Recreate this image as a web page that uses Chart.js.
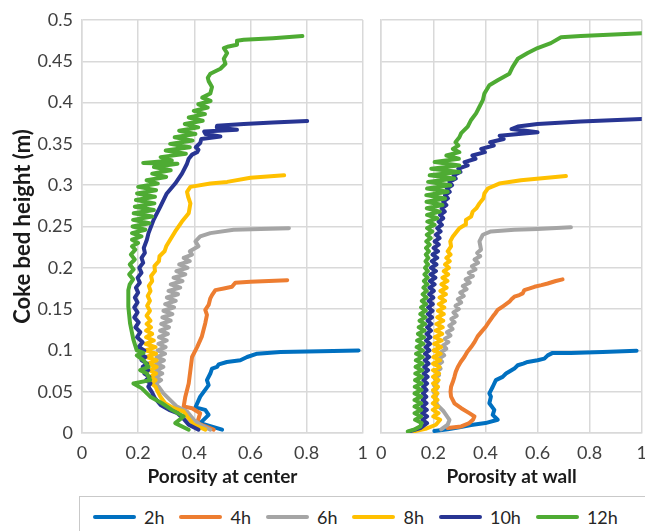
<!DOCTYPE html>
<html>
<head>
<meta charset="utf-8">
<script src="https://cdn.jsdelivr.net/npm/chart.js@4"></script>
<style>
  body { margin: 0; background: #fff; overflow: hidden; }
  #wrap { position: relative; width: 645px; height: 531px; overflow: hidden; }
  canvas { position: absolute; top: 0; }
  #legend {
    position: absolute; left: 79px; top: 496px; width: 620px; height: 60px;
    border: 1.5px solid #c9c9c9; box-sizing: border-box;
    display: flex; align-items: flex-start; padding: 9px 0 0 13px;
    font-family: Lato, sans-serif; font-size: 18px; color: #262626;
  }
  .item { display: flex; align-items: center; margin-right: 15px; height: 22px; }
  .swatch { width: 43px; height: 4px; border-radius: 2px; margin-right: 8px; }
</style>
</head>
<body>
<div id="wrap">
  <canvas id="centerChart" width="377" height="495" style="left:0"></canvas>
  <canvas id="wallChart" width="289" height="495" style="left:367px"></canvas>
  <div id="legend"></div>
</div>
<script>
// series names and colours
const seriesNames = ['2h', '4h', '6h', '8h', '10h', '12h'];
const seriesColors = ['#0070c0', '#ed7d31', '#a5a5a5', '#ffc000', '#283593', '#4eab33'];

// axis ticks
const xTickValues = [0, 0.2, 0.4, 0.6, 0.8, 1];
const xTickLabels = ['0', '0.2', '0.4', '0.6', '0.8', '1'];
const yTickValues = [0, 0.05, 0.1, 0.15, 0.2, 0.25, 0.3, 0.35, 0.4, 0.45, 0.5];
const yTickLabels = ['0', '0.05', '0.1', '0.15', '0.2', '0.25', '0.3', '0.35', '0.4', '0.45', '0.5'];

// porosity at center, [porosity, height (m)]
const center2h = [[0.499,0.004],[0.421,0.012],[0.451,0.022],[0.439,0.028],[0.404,0.031],[0.421,0.044],[0.451,0.058],[0.445,0.064],[0.457,0.072],[0.463,0.078],[0.481,0.080],[0.487,0.083],[0.516,0.086],[0.564,0.088],[0.588,0.092],[0.624,0.096],[0.707,0.098],[0.850,0.099],[0.985,0.100]];
const center4h = [[0.469,0.004],[0.410,0.012],[0.421,0.024],[0.392,0.030],[0.362,0.032],[0.368,0.044],[0.380,0.060],[0.386,0.076],[0.392,0.092],[0.410,0.104],[0.427,0.117],[0.439,0.133],[0.445,0.143],[0.439,0.149],[0.451,0.155],[0.457,0.163],[0.463,0.167],[0.475,0.173],[0.505,0.175],[0.534,0.177],[0.546,0.182],[0.600,0.183],[0.731,0.185]];
const center6h = [[0.457,0.004],[0.421,0.010],[0.398,0.016],[0.374,0.026],[0.338,0.032],[0.290,0.048],[0.273,0.056],
  [0.262,0.060],[0.282,0.064],[0.262,0.068],[0.286,0.072],[0.264,0.076],[0.290,0.080],[0.264,0.084],[0.292,0.088],[0.266,0.092],[0.296,0.096],
  [0.270,0.100],[0.298,0.104],[0.272,0.108],[0.302,0.112],[0.274,0.116],[0.306,0.120],[0.278,0.124],[0.310,0.128],[0.282,0.132],[0.316,0.136],
  [0.286,0.140],[0.322,0.144],[0.290,0.148],[0.328,0.152],[0.296,0.156],[0.334,0.160],[0.302,0.164],[0.342,0.168],[0.308,0.172],[0.350,0.176],
  [0.316,0.180],[0.358,0.184],[0.326,0.188],[0.368,0.192],[0.336,0.196],[0.376,0.200],[0.346,0.204],[0.384,0.208],[0.362,0.212],[0.392,0.216],
  [0.384,0.220],[0.415,0.226],[0.404,0.232],[0.421,0.238],[0.457,0.242],[0.540,0.246],[0.636,0.247],[0.737,0.248]];
const center8h = [[0.439,0.004],[0.398,0.010],[0.374,0.020],[0.362,0.026],[0.326,0.030],[0.296,0.036],[0.279,0.044],[0.267,0.052],
  [0.262,0.056],[0.248,0.060],[0.262,0.064],[0.244,0.068],[0.264,0.072],[0.240,0.076],[0.266,0.080],[0.236,0.084],[0.266,0.088],[0.230,0.092],
  [0.264,0.096],[0.226,0.100],[0.262,0.104],[0.226,0.108],[0.256,0.112],[0.228,0.116],[0.250,0.120],[0.228,0.124],[0.246,0.128],[0.230,0.132],
  [0.244,0.136],[0.230,0.142],[0.242,0.148],[0.232,0.154],[0.242,0.160],[0.234,0.166],[0.244,0.172],[0.238,0.178],[0.250,0.184],[0.246,0.190],
  [0.260,0.196],[0.258,0.202],[0.274,0.208],[0.276,0.214],[0.294,0.220],[0.300,0.226],[0.314,0.234],[0.332,0.244],[0.356,0.256],[0.380,0.266],
  [0.386,0.278],[0.378,0.286],[0.374,0.292],[0.386,0.298],[0.457,0.302],[0.517,0.304],[0.600,0.309],[0.720,0.312]];
const center10h = [[0.415,0.004],[0.380,0.010],[0.360,0.018],[0.340,0.024],[0.310,0.028],[0.280,0.034],[0.260,0.042],[0.248,0.050],
  [0.236,0.056],[0.244,0.060],[0.228,0.064],[0.240,0.068],[0.222,0.072],[0.236,0.076],[0.216,0.080],[0.232,0.084],[0.212,0.088],[0.226,0.092],
  [0.206,0.096],[0.222,0.100],[0.202,0.104],[0.216,0.110],[0.196,0.116],[0.208,0.122],[0.190,0.128],[0.202,0.134],[0.186,0.140],[0.198,0.146],
  [0.186,0.152],[0.198,0.158],[0.188,0.164],[0.200,0.170],[0.192,0.176],[0.206,0.182],[0.198,0.188],[0.212,0.194],[0.204,0.200],[0.218,0.206],
  [0.212,0.212],[0.224,0.218],[0.220,0.224],[0.231,0.234],[0.237,0.242],[0.255,0.258],[0.279,0.274],[0.302,0.290],[0.332,0.302],[0.356,0.314],
  [0.374,0.326],[0.380,0.332],[0.392,0.337],[0.410,0.340],[0.415,0.343],[0.405,0.346],[0.421,0.351],[0.425,0.356],[0.493,0.359],[0.440,0.362],
  [0.435,0.365],[0.552,0.367],[0.480,0.370],[0.481,0.372],[0.576,0.374],[0.680,0.376],[0.802,0.3777]];
const center12h = [[0.380,0.004],[0.332,0.012],[0.362,0.020],[0.320,0.028],[0.285,0.036],[0.243,0.044],[0.213,0.054],[0.183,0.060],[0.243,0.064],
  [0.231,0.072],[0.207,0.076],[0.237,0.080],[0.219,0.088],[0.195,0.094],[0.219,0.097],[0.195,0.100],[0.183,0.113],[0.171,0.133],[0.165,0.153],[0.165,0.173],
  [0.170,0.180],[0.182,0.186],[0.168,0.192],[0.184,0.198],[0.170,0.204],[0.188,0.210],[0.174,0.216],[0.190,0.222],[0.178,0.226],[0.200,0.230],
  [0.178,0.234],[0.212,0.238],[0.178,0.242],[0.226,0.246],[0.180,0.250],[0.240,0.254],[0.182,0.258],[0.250,0.262],[0.184,0.266],[0.256,0.270],
  [0.188,0.274],[0.258,0.278],[0.192,0.282],[0.260,0.286],[0.196,0.290],[0.264,0.294],[0.200,0.298],[0.270,0.302],[0.230,0.306],[0.300,0.310],
  [0.250,0.314],[0.316,0.318],[0.256,0.322],[0.340,0.326],[0.218,0.327],[0.320,0.330],[0.280,0.334],[0.370,0.338],[0.298,0.342],[0.384,0.346],
  [0.314,0.350],[0.394,0.354],[0.330,0.358],[0.404,0.362],[0.346,0.366],[0.414,0.370],[0.366,0.374],[0.430,0.378],[0.380,0.382],[0.438,0.386],
  [0.398,0.390],[0.448,0.394],[0.414,0.398],[0.458,0.402],[0.428,0.406],[0.457,0.411],[0.463,0.419],[0.451,0.426],[0.448,0.430],[0.457,0.435],
  [0.493,0.441],[0.511,0.447],[0.505,0.453],[0.517,0.460],[0.505,0.466],[0.522,0.468],[0.552,0.470],[0.552,0.475],[0.576,0.476],[0.680,0.478],[0.785,0.4806]];

// porosity at wall, [porosity, height (m)]
const wall2h = [[0.204,0.0024],[0.255,0.0045],[0.300,0.007],[0.345,0.0097],[0.400,0.012],[0.447,0.016],[0.428,0.022],[0.434,0.028],[0.415,0.036],
  [0.421,0.044],[0.415,0.048],[0.428,0.056],[0.440,0.064],[0.466,0.068],[0.479,0.072],[0.500,0.076],[0.511,0.078],[0.524,0.082],[0.545,0.084],
  [0.562,0.086],[0.600,0.088],[0.626,0.090],[0.639,0.094],[0.658,0.097],[0.728,0.097],[0.850,0.098],[0.980,0.0997]];
const wall4h = [[0.255,0.006],[0.307,0.008],[0.338,0.012],[0.352,0.016],[0.358,0.020],[0.338,0.024],[0.307,0.030],[0.281,0.036],[0.268,0.044],
  [0.266,0.050],[0.268,0.056],[0.275,0.062],[0.281,0.068],[0.286,0.074],[0.294,0.080],[0.305,0.086],[0.319,0.092],[0.330,0.098],[0.345,0.104],
  [0.358,0.110],[0.370,0.117],[0.386,0.123],[0.402,0.129],[0.415,0.135],[0.428,0.141],[0.438,0.145],[0.447,0.149],[0.470,0.154],[0.492,0.159],
  [0.500,0.162],[0.511,0.165],[0.530,0.167],[0.543,0.169],[0.549,0.173],[0.570,0.175],[0.588,0.177],[0.615,0.179],[0.639,0.181],[0.670,0.184],[0.696,0.186]];
const wall6h = [[0.230,0.0045],[0.255,0.010],[0.262,0.016],[0.240,0.026],[0.215,0.034],[0.206,0.042],
  [0.212,0.046],[0.200,0.050],[0.214,0.054],[0.202,0.058],[0.216,0.062],[0.205,0.066],[0.222,0.070],[0.210,0.074],[0.228,0.078],[0.216,0.082],
  [0.234,0.086],[0.222,0.090],[0.242,0.094],[0.230,0.098],[0.250,0.102],[0.237,0.106],[0.258,0.110],[0.244,0.114],[0.266,0.118],[0.252,0.122],
  [0.274,0.126],[0.261,0.130],[0.282,0.134],[0.269,0.138],[0.290,0.142],[0.277,0.146],[0.298,0.150],[0.285,0.154],[0.307,0.158],[0.294,0.162],
  [0.317,0.166],[0.303,0.170],[0.328,0.174],[0.313,0.178],[0.340,0.182],[0.324,0.186],[0.352,0.190],[0.336,0.194],[0.362,0.198],[0.348,0.202],
  [0.372,0.206],[0.358,0.210],[0.380,0.214],[0.368,0.218],[0.383,0.222],[0.377,0.232],[0.390,0.240],[0.421,0.244],[0.511,0.246],[0.600,0.247],[0.728,0.249]];
const wall8h = [[0.125,0.002],[0.170,0.005],[0.210,0.010],[0.226,0.016],[0.200,0.020],[0.220,0.024],[0.198,0.028],[0.218,0.032],[0.198,0.036],
  [0.216,0.040],[0.199,0.044],[0.216,0.048],[0.199,0.052],[0.218,0.056],[0.199,0.060],[0.220,0.064],[0.199,0.068],[0.222,0.072],[0.199,0.076],
  [0.224,0.080],[0.199,0.084],[0.226,0.088],[0.200,0.092],[0.228,0.096],[0.201,0.100],[0.230,0.104],[0.203,0.108],[0.232,0.112],[0.206,0.116],
  [0.234,0.120],[0.209,0.124],[0.236,0.128],[0.212,0.132],[0.238,0.136],[0.215,0.140],[0.240,0.144],[0.218,0.148],[0.242,0.152],[0.221,0.156],
  [0.245,0.160],[0.224,0.164],[0.248,0.168],[0.227,0.172],[0.251,0.176],[0.231,0.180],[0.254,0.184],[0.235,0.188],[0.257,0.192],[0.240,0.196],
  [0.260,0.200],[0.245,0.204],[0.263,0.208],[0.250,0.212],[0.266,0.216],[0.255,0.220],[0.268,0.226],[0.265,0.232],[0.275,0.238],[0.300,0.248],
  [0.322,0.252],[0.325,0.258],[0.345,0.262],[0.351,0.268],[0.365,0.272],[0.377,0.278],[0.392,0.284],[0.396,0.290],[0.409,0.296],[0.453,0.302],
  [0.536,0.306],[0.709,0.311]];
const wall10h = [[0.109,0.002],[0.150,0.006],[0.176,0.012],[0.158,0.016],[0.176,0.020],[0.157,0.024],[0.175,0.028],[0.158,0.032],[0.174,0.036],
  [0.159,0.040],[0.173,0.044],[0.160,0.048],[0.174,0.052],[0.161,0.056],[0.176,0.060],[0.162,0.064],[0.178,0.068],[0.163,0.072],[0.180,0.076],
  [0.165,0.080],[0.182,0.084],[0.167,0.088],[0.184,0.092],[0.168,0.096],[0.185,0.100],[0.170,0.104],[0.187,0.108],[0.172,0.112],[0.189,0.116],
  [0.174,0.120],[0.191,0.124],[0.176,0.128],[0.193,0.132],[0.178,0.136],[0.195,0.140],[0.179,0.144],[0.197,0.148],[0.180,0.152],[0.198,0.156],
  [0.182,0.160],[0.200,0.164],[0.184,0.168],[0.202,0.172],[0.185,0.176],[0.205,0.180],[0.187,0.184],[0.208,0.188],[0.189,0.192],[0.210,0.196],
  [0.191,0.200],[0.212,0.204],[0.194,0.208],[0.215,0.212],[0.197,0.216],[0.218,0.220],[0.201,0.224],[0.221,0.228],[0.205,0.232],[0.224,0.236],
  [0.210,0.240],[0.228,0.244],[0.215,0.248],[0.233,0.252],[0.220,0.256],[0.238,0.260],[0.226,0.264],[0.244,0.268],[0.232,0.272],[0.250,0.276],
  [0.238,0.280],[0.256,0.284],[0.245,0.288],[0.263,0.292],[0.252,0.296],[0.272,0.300],[0.262,0.304],[0.286,0.308],[0.278,0.312],[0.304,0.316],
  [0.296,0.320],[0.332,0.324],[0.320,0.328],[0.362,0.332],[0.350,0.336],[0.398,0.340],[0.384,0.344],[0.432,0.348],[0.418,0.352],[0.470,0.356],
  [0.455,0.360],[0.600,0.364],[0.500,0.368],[0.524,0.371],[0.600,0.374],[0.766,0.377],[1.000,0.380]];
const wall12h = [[0.102,0.002],[0.125,0.004],[0.150,0.008],[0.155,0.012],[0.130,0.016],[0.153,0.020],[0.128,0.024],[0.153,0.028],[0.128,0.032],
  [0.153,0.036],[0.128,0.040],[0.153,0.044],[0.128,0.048],[0.154,0.052],[0.129,0.056],[0.155,0.060],[0.130,0.064],[0.156,0.068],[0.131,0.072],
  [0.157,0.076],[0.132,0.080],[0.158,0.084],[0.133,0.088],[0.159,0.092],[0.134,0.096],[0.160,0.100],[0.136,0.104],[0.162,0.108],[0.138,0.112],
  [0.164,0.116],[0.141,0.120],[0.166,0.124],[0.144,0.128],[0.168,0.132],[0.147,0.136],[0.170,0.140],[0.150,0.144],[0.171,0.148],[0.153,0.152],
  [0.172,0.156],[0.156,0.160],[0.174,0.164],[0.159,0.168],[0.175,0.172],[0.162,0.176],[0.177,0.180],[0.164,0.184],[0.178,0.188],[0.166,0.192],
  [0.179,0.196],[0.168,0.200],[0.180,0.204],[0.170,0.208],[0.181,0.212],[0.171,0.216],[0.183,0.220],[0.172,0.224],[0.186,0.228],[0.173,0.232],
  [0.190,0.236],[0.175,0.240],[0.196,0.244],[0.176,0.248],[0.205,0.252],[0.177,0.256],[0.215,0.260],[0.176,0.264],[0.225,0.268],[0.175,0.272],
  [0.235,0.276],[0.174,0.280],[0.245,0.284],[0.173,0.288],[0.255,0.292],[0.176,0.296],[0.265,0.300],[0.180,0.304],[0.280,0.308],[0.186,0.312],
  [0.300,0.316],[0.192,0.320],[0.300,0.324],[0.205,0.328],[0.298,0.332],[0.250,0.336],[0.300,0.340],[0.275,0.344],[0.296,0.348],[0.285,0.352],
  [0.300,0.358],[0.307,0.363],[0.332,0.371],[0.345,0.379],[0.364,0.387],[0.377,0.395],[0.390,0.403],[0.396,0.411],[0.415,0.421],[0.447,0.427],
  [0.492,0.435],[0.504,0.443],[0.524,0.453],[0.562,0.460],[0.600,0.466],[0.651,0.472],[0.690,0.479],[0.766,0.4806],[1.000,0.484]];

const centerSeries = [center2h, center4h, center6h, center8h, center10h, center12h];
const wallSeries = [wall2h, wall4h, wall6h, wall8h, wall10h, wall12h];

const fontFamily = 'Lato, sans-serif';
const gridColor = '#d9d9d9';

function makeDatasets(seriesList) {
    return seriesList.map((pts, i) => ({
        label: seriesNames[i],
        data: pts.map(p => ({ x: p[0], y: p[1] })),
        showLine: true,
        borderColor: seriesColors[i],
        backgroundColor: seriesColors[i],
        borderWidth: 4,
        borderJoinStyle: 'round',
        borderCapStyle: 'round',
        pointRadius: 0,
        tension: 0,
        order: seriesList.length - i // later hours drawn on top
    }));
}

function makeOptions(xTitle, showY, padding) {
    return {
        responsive: false,
        animation: false,
        devicePixelRatio: 1,
        layout: { padding: padding },
        plugins: { legend: { display: false }, tooltip: { enabled: false } },
        scales: {
            x: {
                type: 'linear', min: 0, max: 1,
                afterBuildTicks: s => { s.ticks = xTickValues.map(v => ({ value: v })); },
                afterFit: s => { s.height = 62; },
                ticks: {
                    callback: (v, i) => xTickLabels[i],
                    font: { family: fontFamily, size: 18 },
                    color: '#404040', padding: 9, maxRotation: 0
                },
                grid: { color: gridColor, lineWidth: 1.5, drawTicks: false },
                border: { display: true, color: gridColor, width: 1.5 },
                title: {
                    display: true, text: xTitle, color: '#1a1a1a',
                    font: { family: fontFamily, size: 19, weight: 'bold' },
                    padding: { top: 0, bottom: 7 }
                }
            },
            y: {
                type: 'linear', min: 0, max: 0.5,
                afterBuildTicks: s => { s.ticks = yTickValues.map(v => ({ value: v })); },
                afterFit: s => { s.width = showY ? 82 : 0; },
                ticks: {
                    display: showY,
                    callback: (v, i) => yTickLabels[i],
                    font: { family: fontFamily, size: 18 },
                    color: '#404040', padding: 9
                },
                grid: { color: gridColor, lineWidth: 1.5, drawTicks: false },
                border: { display: true, color: gridColor, width: 1.5 },
                title: {
                    display: showY, text: 'Coke bed height (m)', color: '#1a1a1a',
                    font: { family: fontFamily, size: 22, weight: 'bold' },
                    padding: { top: 10, bottom: 0 }
                }
            }
        }
    };
}

new Chart(document.getElementById('centerChart'), {
    type: 'scatter',
    data: { datasets: makeDatasets(centerSeries) },
    options: makeOptions('Porosity at center', true, { top: 20, right: 10, left: 0, bottom: 0 })
});

new Chart(document.getElementById('wallChart'), {
    type: 'scatter',
    data: { datasets: makeDatasets(wallSeries) },
    options: makeOptions('Porosity at wall', false, { top: 20, right: 12, left: 9, bottom: 0 })
});

// legend below both panels
const legend = document.getElementById('legend');
seriesNames.forEach((name, i) => {
    const item = document.createElement('div');
    item.className = 'item';
    const sw = document.createElement('span');
    sw.className = 'swatch';
    sw.style.background = seriesColors[i];
    const txt = document.createElement('span');
    txt.textContent = name;
    item.appendChild(sw);
    item.appendChild(txt);
    legend.appendChild(item);
});
</script>
</body>
</html>
